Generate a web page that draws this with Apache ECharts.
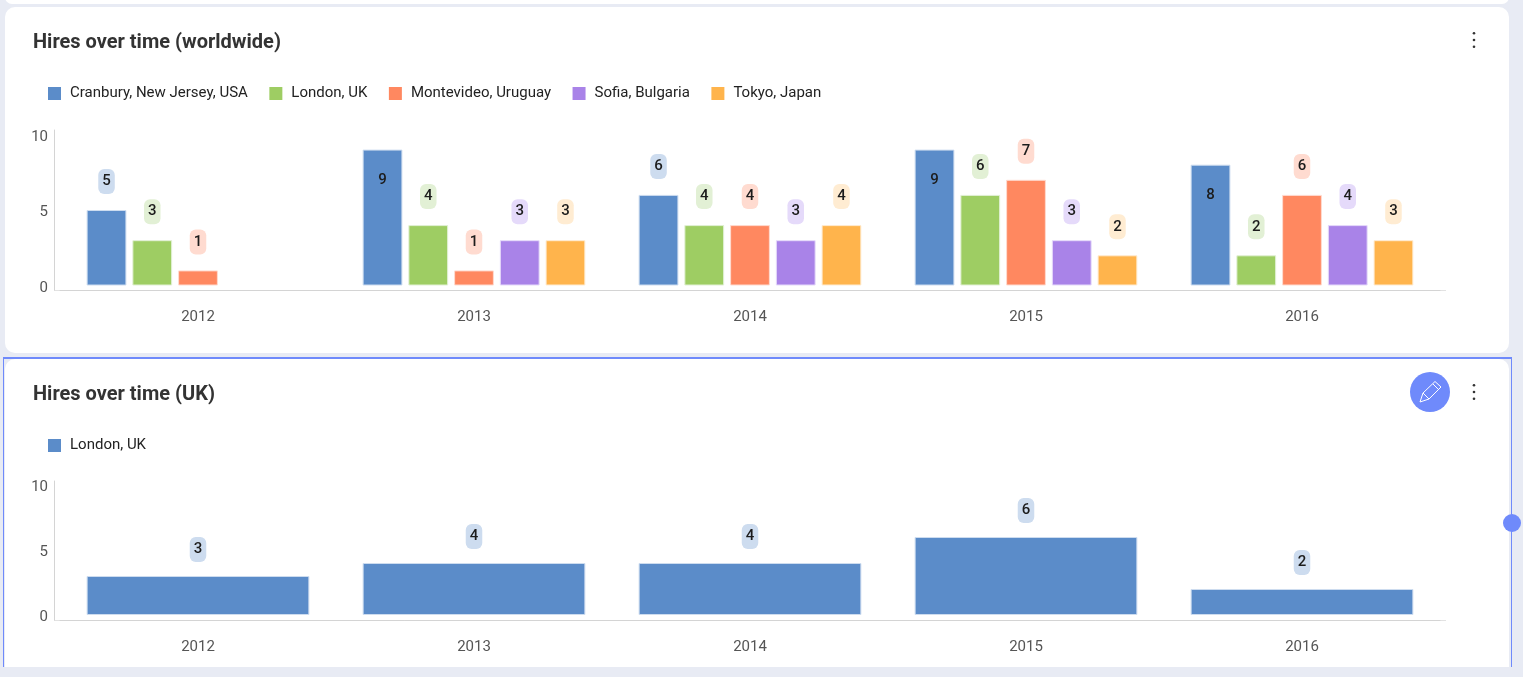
<!DOCTYPE html>
<html>
<head>
<meta charset="utf-8">
<script src="https://cdn.jsdelivr.net/npm/echarts@6/dist/echarts.min.js"></script>
<style>
  html, body { margin: 0; padding: 0; width: 1523px; height: 677px; overflow: hidden; background: #e8ebf4; }
  .strip { position: absolute; left: 5px; top: -10px; width: 1504px; height: 14px; background: #fff; border-radius: 8px; }
  .card { position: absolute; left: 5px; width: 1504px; background: #fff; }
  #card1 { top: 7px; height: 346px; border-radius: 10px; }
  #card2 { top: 359px; height: 308px; border-radius: 10px 10px 0 0; }
  .frame { position: absolute; left: 3px; top: 357px; width: 1507px; height: 308px; border: 1px solid #6f8afb; border-top-width: 2px; border-bottom: 0; }
  .chart { position: absolute; left: 0; width: 1523px; }
  #chart1 { top: 0; height: 354px; }
  #chart2 { top: 354px; height: 313px; }
</style>
</head>
<body>
<div class="strip"></div>
<div class="card" id="card1"></div>
<div class="frame"></div>
<div class="card" id="card2"></div>
<div class="chart" id="chart1"></div>
<div class="chart" id="chart2"></div>
<script>
var years = ['2012', '2013', '2014', '2015', '2016'];
var cranbury = [5, 9, 6, 9, 8];
var london = [3, 4, 4, 6, 2];
var montevideo = [1, 1, 4, 7, 6];
var sofia = [null, 3, 3, 3, 4];
var tokyo = [null, 3, 4, 2, 3];
var yTicks = [0, 5, 10];

var BLUE = ['#5b8cc9', '#cddcef'];
var GREEN = ['#9ecd63', '#e2f0d5'];
var ORANGE = ['#ff8860', '#ffdbd0'];
var PURPLE = ['#a983e8', '#e5dafa'];
var YELLOW = ['#ffb44c', '#ffecd2'];

function barSeries(name, values, colors, labelGap) {
  return {
    name: name,
    type: 'bar',
    barGap: '15%',
    barCategoryGap: '19.3%',
    itemStyle: { color: colors[0], borderColor: colors[1], borderWidth: 1 },
    data: values.map(function (v) {
      // tall bars have no room above, the label goes inside without a pill
      if (v >= 8) {
        return {
          value: v,
          label: { position: 'insideTop', distance: 18.5, backgroundColor: 'transparent' }
        };
      }
      return v;
    }),
    label: {
      show: true,
      position: 'top',
      distance: labelGap,
      color: '#1c1c1c',
      fontFamily: 'Roboto',
      fontSize: 15,
      fontWeight: 500,
      lineHeight: 15,
      padding: [5, 4],
      borderRadius: 6,
      backgroundColor: colors[1]
    }
  };
}

function kebab(y) {
  return [-6.7, 0, 6.7].map(function (d) {
    return { type: 'circle', shape: { cx: 1474, cy: y + d, r: 1.3 }, style: { fill: '#333' } };
  });
}

function drawChart(id, opt) {
  var chart = echarts.init(document.getElementById(id));
  chart.setOption({
    animation: false,
    textStyle: { fontFamily: 'Roboto' },
    title: {
      text: opt.title,
      left: 33,
      top: opt.titleTop,
      padding: 0,
      textStyle: { fontFamily: 'Roboto', fontSize: 20, fontWeight: 700, color: '#333' }
    },
    legend: {
      left: 48,
      top: opt.legendTop,
      padding: 0,
      icon: 'rect',
      itemWidth: 13,
      itemHeight: 13,
      itemGap: 21.5,
      selectedMode: false,
      itemStyle: { borderWidth: 0 },
      textStyle: { fontFamily: 'Roboto', fontSize: 15, color: '#222', padding: [0, 0, 0, 4] }
    },
    grid: { left: 60, width: 1380, top: opt.gridTop, height: opt.gridHeight },
    xAxis: {
      type: 'category',
      data: years,
      axisTick: { show: false },
      axisLine: { onZero: false, lineStyle: { color: '#d4d4d4', width: 1 } },
      axisLabel: { margin: 20, fontFamily: 'Roboto', fontSize: 15, color: '#555' }
    },
    yAxis: {
      type: 'value',
      min: opt.yMin,
      max: opt.yMax,
      offset: 6,
      splitLine: { show: false },
      axisTick: { show: false },
      axisLine: { show: true, onZero: false, lineStyle: { color: '#d4d4d4', width: 1 } },
      // labels sit slightly under their value in the reference
      axisLabel: { customValues: yTicks, margin: 6, verticalAlign: 'top', lineHeight: 5, fontFamily: 'Roboto', fontSize: 15, color: '#555' }
    },
    series: opt.series,
    graphic: [
      // the axis line runs a little past the bar area on both sides
      {
        type: 'line',
        z: 0,
        shape: { x1: 54, y1: opt.gridTop + opt.gridHeight + 0.5, x2: 1446, y2: opt.gridTop + opt.gridHeight + 0.5 },
        style: { stroke: '#e2e2e2', lineWidth: 1 }
      }
    ].concat(kebab(opt.kebabY), opt.extra || [])
  });
  return chart;
}

drawChart('chart1', {
  title: 'Hires over time (worldwide)',
  titleTop: 33,
  legendTop: 86,
  gridTop: 130,
  gridHeight: 160,
  yMin: -4.5 / 15.1,
  yMax: 155.5 / 15.1,
  kebabY: 40,
  series: [
    barSeries('Cranbury, New Jersey, USA', cranbury, BLUE, 16),
    barSeries('London, UK', london, GREEN, 16),
    barSeries('Montevideo, Uruguay', montevideo, ORANGE, 16),
    barSeries('Sofia, Bulgaria', sofia, PURPLE, 16),
    barSeries('Tokyo, Japan', tokyo, YELLOW, 16)
  ]
});

drawChart('chart2', {
  title: 'Hires over time (UK)',
  titleTop: 31,
  legendTop: 84,
  gridTop: 127,
  gridHeight: 139,
  yMin: -5 / 13,
  yMax: 134 / 13,
  kebabY: 38,
  series: [barSeries('London, UK', london, BLUE, 14)],
  extra: [
    { type: 'circle', shape: { cx: 1430, cy: 38, r: 20 }, style: { fill: '#6f8afb' } },
    {
      type: 'polyline',
      shape: { points: [[1420, 48], [1423, 39], [1435, 27.5], [1441, 33], [1429, 45], [1420, 48]] },
      style: { stroke: '#fff', lineWidth: 1, fill: 'none' }
    },
    { type: 'line', shape: { x1: 1433, y1: 30, x2: 1438.5, y2: 35.5 }, style: { stroke: '#fff', lineWidth: 1 } },
    { type: 'line', shape: { x1: 1423, y1: 39, x2: 1429, y2: 45 }, style: { stroke: '#fff', lineWidth: 1 } },
    { type: 'circle', shape: { cx: 1512, cy: 169, r: 9 }, style: { fill: '#6f8afb' } }
  ]
});
</script>
</body>
</html>
